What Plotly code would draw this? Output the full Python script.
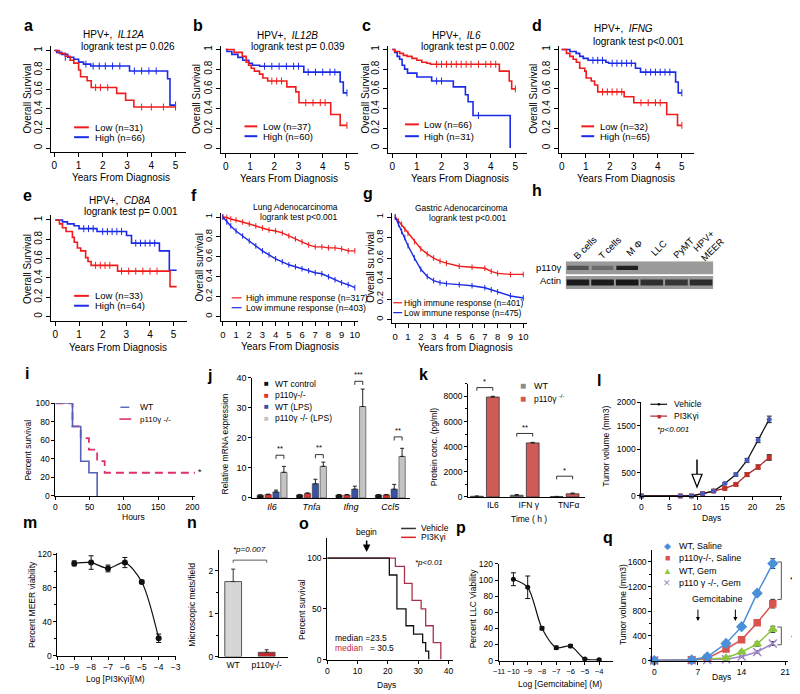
import plotly.graph_objects as go

W, H = 800, 694
FONT = "Liberation Sans, Arial, sans-serif"
R_RED, R_BLUE = "#f01c1c", "#1a2ae6"

# ---------------- data ----------------
# a  HPV+, IL12A
a_low_t = [0, 0.2, 0.45, 0.65, 0.8, 1.0, 1.08, 1.35, 1.52, 2.57, 2.94, 3.28, 5.0]
a_low_s = [1, 0.97, 0.94, 0.9, 0.87, 0.8, 0.73, 0.69, 0.62, 0.56, 0.49, 0.42, 0.42]
a_high_t = [0, 0.1, 0.3, 0.55, 0.8, 1.0, 1.2, 1.5, 3.1, 4.67, 4.77, 5.0]
a_high_s = [1, 0.98, 0.96, 0.93, 0.91, 0.88, 0.86, 0.84, 0.79, 0.71, 0.44, 0.44]
a_high_ct = [0.45, 1.3, 1.6, 1.85, 2.1, 2.4, 2.7, 3.3, 3.6, 3.9, 4.2, 5.0]
a_high_cs = [0.93, 0.86, 0.84, 0.84, 0.84, 0.84, 0.84, 0.79, 0.79, 0.79, 0.79, 0.44]
a_low_ct = [1.7, 1.9, 2.2, 3.6, 4.0, 4.5, 5.0]
a_low_cs = [0.62, 0.62, 0.62, 0.42, 0.42, 0.42, 0.42]
# b  HPV+, IL12B
b_low_t = [0, 0.34, 0.68, 0.84, 0.94, 1.05, 1.18, 1.39, 1.53, 1.73, 2.52, 2.89, 3.02, 4.33, 4.72, 5.0]
b_low_s = [1, 0.97, 0.93, 0.87, 0.84, 0.81, 0.78, 0.75, 0.71, 0.68, 0.62, 0.57, 0.46, 0.34, 0.23, 0.23]
b_high_t = [0, 0.05, 0.25, 0.5, 0.7, 0.95, 1.1, 1.4, 3.22, 4.72, 4.85, 5.0]
b_high_s = [1, 0.98, 0.95, 0.92, 0.89, 0.86, 0.84, 0.83, 0.77, 0.67, 0.56, 0.56]
b_high_ct = [1.6, 1.9, 2.2, 2.5, 2.8, 3.0, 3.4, 3.7, 4.0, 4.3, 4.5, 5.0]
b_high_cs = [0.83, 0.83, 0.83, 0.83, 0.83, 0.83, 0.77, 0.77, 0.77, 0.77, 0.77, 0.56]
b_low_ct = [1.9, 2.1, 2.3, 3.3, 3.6, 3.9, 4.1, 5.0]
b_low_cs = [0.68, 0.68, 0.68, 0.46, 0.46, 0.46, 0.46, 0.23]
# c  HPV+, IL6
c_low_t = [0, 0.1, 0.3, 0.45, 0.6, 0.8, 1.0, 1.2, 1.4, 1.55, 4.35, 4.75, 4.85, 5.0]
c_low_s = [1, 0.98, 0.96, 0.94, 0.93, 0.91, 0.89, 0.87, 0.86, 0.85, 0.78, 0.68, 0.6, 0.6]
c_high_t = [0, 0.1, 0.2, 0.3, 0.4, 0.5, 0.62, 1.0, 1.6, 2.48, 2.97, 3.08, 3.28, 4.79]
c_high_s = [1, 0.97, 0.93, 0.9, 0.84, 0.8, 0.76, 0.72, 0.68, 0.62, 0.54, 0.47, 0.33, 0.0]
c_low_ct = [1.8, 2.0, 2.2, 2.4, 2.6, 2.8, 3.0, 3.2, 3.5, 3.8, 4.0, 4.2, 5.0]
c_low_cs = [0.85, 0.85, 0.85, 0.85, 0.85, 0.85, 0.85, 0.85, 0.85, 0.85, 0.85, 0.85, 0.6]
c_high_ct = [1.8, 2.0, 3.5]
c_high_cs = [0.68, 0.68, 0.33]
# d  HPV+, IFNG
d_low_t = [0, 0.2, 0.34, 0.48, 0.61, 0.75, 0.96, 1.02, 1.23, 1.37, 1.5, 2.6, 3.0, 4.37, 4.82, 5.0]
d_low_s = [1, 0.96, 0.93, 0.9, 0.87, 0.81, 0.78, 0.71, 0.68, 0.64, 0.57, 0.52, 0.46, 0.34, 0.23, 0.23]
d_high_t = [0, 0.34, 0.6, 0.75, 0.9, 1.1, 1.84, 1.95, 3.07, 3.28, 4.74, 4.85, 5.0]
d_high_s = [1, 0.98, 0.96, 0.93, 0.91, 0.89, 0.87, 0.86, 0.81, 0.77, 0.67, 0.56, 0.56]
d_high_ct = [1.3, 1.5, 1.7, 2.1, 2.3, 2.5, 2.7, 2.9, 3.5, 3.7, 3.9, 4.1, 4.3, 4.5, 5.0]
d_high_cs = [0.89, 0.89, 0.89, 0.86, 0.86, 0.86, 0.86, 0.86, 0.77, 0.77, 0.77, 0.77, 0.77, 0.77, 0.56]
d_low_ct = [1.7, 1.9, 2.1, 2.3, 2.5, 3.3, 3.6, 3.9, 4.1, 5.0]
d_low_cs = [0.57, 0.57, 0.57, 0.57, 0.57, 0.46, 0.46, 0.46, 0.46, 0.23]
# e  HPV+, CD8A
e_low_t = [0, 0.17, 0.3, 0.45, 0.72, 0.8, 0.93, 1.07, 1.28, 1.38, 1.51, 2.63, 4.85, 5.13]
e_low_s = [1, 0.96, 0.92, 0.88, 0.82, 0.77, 0.71, 0.68, 0.61, 0.57, 0.53, 0.47, 0.31, 0.31]
e_high_t = [0, 0.3, 0.51, 0.79, 1.0, 1.76, 3.01, 3.22, 4.4, 4.82, 5.13]
e_high_s = [1, 0.98, 0.96, 0.94, 0.91, 0.88, 0.84, 0.76, 0.68, 0.48, 0.48]
e_high_ct = [1.2, 1.4, 1.6, 2.0, 2.2, 2.4, 2.6, 2.8, 3.4, 3.6, 3.8, 4.0, 4.2]
e_high_cs = [0.91, 0.91, 0.91, 0.88, 0.88, 0.88, 0.88, 0.88, 0.76, 0.76, 0.76, 0.76, 0.76]
e_low_ct = [1.7, 1.9, 2.1, 2.3, 2.8, 3.1, 3.4, 3.7, 4.0, 4.3]
e_low_cs = [0.53, 0.53, 0.53, 0.53, 0.47, 0.47, 0.47, 0.47, 0.47, 0.47]
# f  Lung adenocarcinoma
f_t = [0, 0.3, 0.6, 1.0, 1.5, 2.0, 2.5, 3.0, 3.5, 4.0, 4.5, 5.0, 5.5, 6.0, 6.5, 7.0, 7.5, 8.0, 8.5, 9.0, 9.5, 10.0]
f_high = [1, 0.995, 0.98, 0.97, 0.95, 0.93, 0.91, 0.89, 0.87, 0.86, 0.84, 0.81, 0.78, 0.75, 0.72, 0.7, 0.7, 0.69, 0.69, 0.68, 0.66, 0.66]
f_low = [1, 0.95, 0.91, 0.86, 0.81, 0.76, 0.71, 0.66, 0.62, 0.58, 0.55, 0.52, 0.5, 0.48, 0.46, 0.44, 0.43, 0.4, 0.37, 0.34, 0.32, 0.29]
# g  Gastric adenocarcinoma
g_t = [0, 0.25, 0.5, 0.75, 1.0, 1.5, 2.0, 2.5, 3.0, 3.5, 4.0, 5.0, 6.0, 7.0, 7.5, 8.0, 9.0, 10.0]
g_high = [1, 0.96, 0.93, 0.88, 0.84, 0.76, 0.69, 0.64, 0.6, 0.57, 0.55, 0.52, 0.51, 0.5, 0.47, 0.45, 0.44, 0.44]
g_low = [1, 0.93, 0.86, 0.8, 0.72, 0.6, 0.49, 0.42, 0.38, 0.36, 0.35, 0.34, 0.33, 0.31, 0.29, 0.27, 0.23, 0.21]
# h  western blot
blot_lanes = ["B cells", "T cells", "M Φ", "LLC", "PyMT", "HPV+<br>MEER"]
blot_p110 = [0.55, 0.35, 0.95, 0.0, 0.0, 0.0]
blot_actin = [0.95, 0.95, 0.98, 0.8, 0.75, 0.82]
# i  survival (hours)
i_wt_t = [0, 25, 37, 49, 61]
i_wt_s = [100, 75, 37.5, 25, 0]
i_ko_t = [0, 25, 37, 49, 61, 72, 204]
i_ko_s = [100, 75, 62.5, 50, 37.5, 25, 25]
# j  relative mRNA expression
j_genes = ["Il6", "Tnfa", "Ifng", "Ccl5"]
j_wt_ctrl = [0.9, 1.0, 1.0, 1.0]
j_ko_ctrl = [1.1, 1.5, 1.0, 1.0]
j_wt_lps = [2.0, 4.7, 2.9, 2.9]
j_wt_lps_err = [0.6, 1.5, 1.0, 1.6]
j_ko_lps = [8.5, 10.5, 30.4, 13.8]
j_ko_lps_err = [2.0, 1.4, 5.8, 2.7]
j_sig_y = [14.2, 14.4, 38.8, 20.3]
j_sig = ["**", "**", "***", "**"]
# k  protein concentration
k_groups = ["IL6", "IFN γ", "TNFα"]
k_wt = [50, 130, 30]
k_wt_err = [20, 60, 15]
k_ko = [7950, 4300, 250]
k_ko_err = [60, 40, 60]
k_sig_y = [8700, 5050, 1650]
k_sig = ["*", "**", "*"]
# l  tumor volume
l_days = [0, 7, 9, 11, 13, 15, 17, 19, 21, 23]
l_veh = [0, 0, 0, 49, 105, 267, 456, 758, 1193, 1635]
l_veh_err = [0, 0, 0, 10, 15, 20, 35, 45, 55, 70]
l_pi = [0, 0, 0, 49, 105, 161, 246, 456, 618, 821]
l_pi_err = [0, 0, 0, 10, 15, 15, 25, 35, 45, 60]
# m  MEER viability
m_logc = [-9, -8, -7, -6, -5, -4]
m_via = [109, 110, 103, 110, 87, 20.5]
m_err = [3, 8, 4, 6, 2, 5]
# n  mets
n_groups = ["WT", "p110γ-/-"]
n_vals = [1.75, 0.1]
n_err = [0.29, 0.06]
# o  survival (days)
o_veh_t = [0, 20.5, 23, 26, 28.5, 31.5, 32.5, 33.5]
o_veh_s = [100, 83.3, 50, 33.3, 25, 16.7, 8.3, 0]
o_pi_t = [0, 22.5, 25.5, 28, 31, 32.5, 35, 37.5]
o_pi_s = [100, 91.7, 75, 58.3, 50, 33.3, 16.7, 0]
o_ticks = [0, 10, 20, 30, 40]
# p  LLC viability
p_logc = [-10, -9, -8, -7, -6, -5, -4]
p_via = [101, 91, 40, 16, 18, 2, 1]
p_err = [8, 14, 2, 2, 2, 1, 1]
# q  tumor volume with gemcitabine
q_days = [0, 6, 8.5, 11.5, 14, 16.5, 19]
q_wt_sal = [0, 10, 60, 278, 550, 1094, 1574]
q_wt_sal_err = [0, 5, 10, 25, 30, 40, 80]
q_ko_sal = [0, 10, 40, 187, 336, 614, 923]
q_ko_sal_err = [0, 5, 10, 20, 25, 40, 70]
q_wt_gem = [0, 5, 24, 40, 139, 267, 507]
q_wt_gem_err = [0, 5, 5, 10, 20, 35, 50]
q_ko_gem = [0, 5, 10, 21, 64, 139, 277]
q_ko_gem_err = [0, 5, 5, 8, 10, 20, 30]

# ---------------- helpers ----------------
fig = go.Figure()
annots, shapes, lay = [], [], {}


def ref(n):
    return ("x", "y") if n == 1 else (f"x{n}", f"y{n}")


def rng(v0, p0, v1, p1, pa, pb):
    k = (v1 - v0) / (p1 - p0)
    return [v0 + (pa - p0) * k, v0 + (pb - p0) * k]


def axes(n, box, xcal, ycal, xkw=None, ykw=None, style="R", hidden=False):
    xl, xr, yt, yb = box
    tsize = 10 if style == "R" else 8.5
    base = dict(showline=True, linecolor="black", linewidth=1, ticks="outside",
                ticklen=4 if style == "R" else 3, tickwidth=1, tickcolor="black",
                showgrid=False, zeroline=False, fixedrange=True,
                tickfont=dict(family=FONT, size=tsize, color="black"))
    if hidden:
        base = dict(showline=False, showticklabels=False, ticks="", showgrid=False,
                    zeroline=False, fixedrange=True)
    xs, ys = ("xaxis", "yaxis") if n == 1 else (f"xaxis{n}", f"yaxis{n}")
    xa = dict(base)
    xa.update(domain=[xl / W, xr / W], range=rng(*xcal, xl, xr), anchor=ref(n)[1])
    if not hidden:
        xa["tickangle"] = 0
    xa.update(xkw or {})
    ya = dict(base)
    ya.update(domain=[1 - yb / H, 1 - yt / H], range=rng(*ycal, yb, yt), anchor=ref(n)[0])
    if style == "R" and not hidden:
        ya["tickangle"] = -90
    ya.update(ykw or {})
    lay[xs] = xa
    lay[ys] = ya


def T(x, y, text, size=10, anchor="center", angle=0, color="black"):
    annots.append(dict(x=x / W, y=1 - y / H, xref="paper", yref="paper", text=text,
                       showarrow=False, font=dict(family=FONT, size=size, color=color),
                       xanchor=anchor, yanchor="middle", textangle=angle))


def TD(n, x, y, text, size=8, yanchor="bottom"):
    annots.append(dict(x=x, y=y, xref=ref(n)[0], yref=ref(n)[1], text=text, showarrow=False,
                       font=dict(family=FONT, size=size, color="black"),
                       xanchor="center", yanchor=yanchor))


def L(x0, y0, x1, y1, color="black", width=1, dash=None):
    shapes.append(dict(type="line", xref="paper", yref="paper", x0=x0 / W, y0=1 - y0 / H,
                       x1=x1 / W, y1=1 - y1 / H, line=dict(color=color, width=width, dash=dash)))


def bracket(n, xa, xb, y, drop, color="black", width=0.8):
    shapes.append(dict(type="path", xref=ref(n)[0], yref=ref(n)[1],
                       path=f"M{xa},{y - drop} L{xa},{y} L{xb},{y} L{xb},{y - drop}",
                       line=dict(color=color, width=width)))


def km(n, t, s, color, ct=None, cs=None, shape="hv", width=1.6, marks=False):
    xr_, yr_ = ref(n)
    fig.add_trace(go.Scatter(x=t, y=s, mode="lines+markers" if marks else "lines",
                             line=dict(color=color, width=width, shape=shape),
                             marker=dict(symbol="line-ns", size=4, line=dict(width=1, color=color)),
                             xaxis=xr_, yaxis=yr_, hoverinfo="skip", cliponaxis=False))
    if ct:
        fig.add_trace(go.Scatter(x=ct, y=cs, mode="markers",
                                 marker=dict(symbol="line-ns", size=5, line=dict(width=1, color=color)),
                                 xaxis=xr_, yaxis=yr_, hoverinfo="skip", cliponaxis=False))


RY = dict(tickvals=[0, 0.2, 0.4, 0.6, 0.8, 1], ticktext=["0", "0.2", "0.4", "0.6", "0.8", "1"])
RX5 = dict(tickvals=[0, 1, 2, 3, 4, 5])
RX10 = dict(tickvals=list(range(11)), tickfont=dict(family=FONT, size=9.5, color="black"))
RYs = dict(RY, tickfont=dict(family=FONT, size=9.5, color="black"))

# ---------------- a-e: HPV+ KM curves ----------------
km_panels = [
    (1, (37, 174, 33, 141), (0, 40, 5, 163), (0, 137, 1, 38), a_low_t, a_low_s, a_high_t, a_high_s,
     a_low_ct, a_low_cs, a_high_ct, a_high_cs),
    (2, (209, 348, 33, 142), (0, 214, 5, 337), (0, 137, 1, 37), b_low_t, b_low_s, b_high_t, b_high_s,
     b_low_ct, b_low_cs, b_high_ct, b_high_cs),
    (3, (379, 520, 33, 142), (0, 383, 5, 508), (0, 137, 1, 37), c_low_t, c_low_s, c_high_t, c_high_s,
     c_low_ct, c_low_cs, c_high_ct, c_high_cs),
    (4, (552, 689, 33, 142), (0, 555, 5, 677), (0, 137, 1, 37), d_low_t, d_low_s, d_high_t, d_high_s,
     d_low_ct, d_low_cs, d_high_ct, d_high_cs),
    (5, (37, 175, 205, 313), (0, 41, 5, 161), (0, 308, 1, 210), e_low_t, e_low_s, e_high_t, e_high_s,
     e_low_ct, e_low_cs, e_high_ct, e_high_cs),
]
for n, box, xc, yc, lt, ls, ht, hs, lct, lcs, hct, hcs in km_panels:
    axes(n, box, xc, yc, RX5, RY)
    km(n, ht, hs, R_BLUE, hct, hcs)
    km(n, lt, ls, R_RED, lct, lcs)

# texts a
T(14, 13, "<b>a</b>", 16)
T(100, 22, "HPV+,  <i>IL12A</i>")
T(115, 34, "logrank test p= 0.026")
T(108, 167, "Years From Diagnosis")
T(13, 87, "Overall Survival", angle=-90)
L(60, 116, 75, 116, R_RED, 2); T(79, 116, "Low (n=31)", 9.5, anchor="left")
L(60, 126, 75, 126, R_BLUE, 2); T(79, 126, "High (n=66)", 9.5, anchor="left")
# b
T(186, 13, "<b>b</b>", 16)
T(277, 23, "HPV+,  <i>IL12B</i>")
T(287, 34, "logrank test p= 0.039")
T(278, 168, "Years From Diagnosis")
T(185, 87, "Overall Survival", angle=-90)
L(233, 115, 246, 115, R_RED, 2); T(250, 115, "Low (n=37)", 9.5, anchor="left")
L(233, 125, 246, 125, R_BLUE, 2); T(250, 125, "High (n=60)", 9.5, anchor="left")
# c
T(357, 13, "<b>c</b>", 16)
T(448, 23, "HPV+,  <i>IL6</i>")
T(460, 34, "logrank test p= 0.002")
T(452, 168, "Years From Diagnosis")
T(356, 87, "Overall Survival", angle=-90)
L(396, 113, 410, 113, R_RED, 2); T(413, 113, "Low (n=66)", 9.5, anchor="left")
L(396, 125, 410, 125, R_BLUE, 2); T(413, 125, "High (n=31)", 9.5, anchor="left")
# d
T(530, 13, "<b>d</b>", 16)
T(618, 16, "HPV+,  <i>IFNG</i>")
T(633, 29, "logrank test p<0.001")
T(620, 168, "Years From Diagnosis")
T(527, 87, "Overall Survival", angle=-90)
L(575, 115, 588, 115, R_RED, 2); T(592, 115, "Low (n=32)", 9.5, anchor="left")
L(575, 125, 588, 125, R_BLUE, 2); T(592, 125, "High (n=65)", 9.5, anchor="left")
# e
T(13, 185, "<b>e</b>", 16)
T(107, 190, "HPV+,  <i>CD8A</i>")
T(118, 201, "logrank test p= 0.001")
T(105, 339, "Years From Diagnosis")
T(12, 260, "Overall Survival", angle=-90)
L(60, 287, 75, 287, R_RED, 2); T(79, 287, "Low (n=33)", 9.5, anchor="left")
L(60, 297, 75, 297, R_BLUE, 2); T(79, 297, "High (n=64)", 9.5, anchor="left")

# ---------------- f ----------------
axes(6, (209, 348, 203, 313), (0, 211, 10, 345), (0, 308, 1, 207), RX10, RYs)
km(6, f_t, f_high, R_RED, shape="linear", width=1.4, marks=True)
km(6, f_t, f_low, R_BLUE, shape="linear", width=1.4, marks=True)
T(182, 185, "<b>f</b>", 16)
T(285, 197, "Lung Adenocarcinoma", 8.5)
T(288, 207, "logrank test p<0.001", 8.5)
T(279, 338, "Years From Diagnosis")
T(187, 258, "Overall survival", angle=-90)
L(220, 289, 230, 289, R_RED, 1.2); T(232, 289, "High immune response (n=317)", 8.7, anchor="left")
L(220, 299, 230, 299, R_BLUE, 1.2); T(232, 299, "Low immune response (n=403)", 8.7, anchor="left")

# ---------------- g ----------------
axes(7, (383, 520, 203, 315), (0, 386, 10, 516), (0, 311, 1, 207), RX10, RYs)
km(7, g_t, g_high, R_RED, shape="linear", width=1.4, marks=True)
km(7, g_t, g_low, R_BLUE, shape="linear", width=1.4, marks=True)
T(358, 183, "<b>g</b>", 16)
T(453, 198, "Gastric Adenocarcinoma", 8.5)
T(460, 208, "logrank test p<0.001", 8.5)
T(457, 339, "Years from Diagnosis")
T(361, 258, "Overall su rvival", angle=-90)
L(384, 294, 393, 294, R_RED, 1.2); T(393, 294, "High immune response (n=401)", 8.5, anchor="left")
L(384, 304, 393, 304, R_BLUE, 1.2); T(393, 304, "Low immune response (n=475)", 8.5, anchor="left")

# ---------------- h: blot ----------------
axes(8, (559, 709, 252, 280), (-0.5, 559, 5.5, 709), (0, 280, 2, 252), hidden=True)
shapes.append(dict(type="rect", xref="x8", yref="y8", x0=-0.5, x1=5.5, y0=1.06, y1=2.0,
                   fillcolor="#9a9a9a", line=dict(width=0), layer="below"))
shapes.append(dict(type="rect", xref="x8", yref="y8", x0=-0.5, x1=5.5, y0=0.0, y1=0.94,
                   fillcolor="#9a9a9a", line=dict(width=0), layer="below"))
fig.add_trace(go.Bar(x=list(range(6)), y=[0.3] * 6, base=[1.38] * 6, width=0.88,
                     marker=dict(color=[f"rgba(25,25,25,{v})" for v in blot_p110], line=dict(width=0)),
                     offsetgroup="blot", xaxis="x8", yaxis="y8", hoverinfo="skip"))
fig.add_trace(go.Bar(x=list(range(6)), y=[0.44] * 6, base=[0.25] * 6, width=0.92,
                     marker=dict(color=[f"rgba(20,20,20,{v})" for v in blot_actin], line=dict(width=0)),
                     offsetgroup="blot", xaxis="x8", yaxis="y8", hoverinfo="skip"))
T(530, 180, "<b>h</b>", 16)
for i, lab in enumerate(blot_lanes):
    T(559 + 25 * i + 20, 238 if i < 5 else 235, lab, 9.5, angle=-45)
T(556, 258, "p110γ", 9.5, anchor="right")
T(556, 271, "Actin", 9.5, anchor="right")

PT = lambda s=8.5: dict(family=FONT, size=s, color="black")

# ---------------- i ----------------
axes(9, (41, 183, 396, 490), (0, 41, 200, 180), (0, 490, 100, 396),
     dict(tickvals=[0, 50, 100, 150, 200]), dict(tickvals=[0, 20, 40, 60, 80, 100]), style="P")
fig.add_trace(go.Scatter(x=i_ko_t, y=i_ko_s, mode="lines", xaxis="x9", yaxis="y9", cliponaxis=False,
                         line=dict(color="#e0306a", width=1.8, dash="8px,5px", shape="hv"), hoverinfo="skip"))
fig.add_trace(go.Scatter(x=i_wt_t, y=i_wt_s, mode="lines", xaxis="x9", yaxis="y9", cliponaxis=False,
                         line=dict(color="#5560b8", width=1.6, shape="hv"), hoverinfo="skip"))
T(12, 366, "<b>i</b>", 16)
T(120, 511, "Hours", 8.5)
T(13, 443, "Percent survival", 8.5, angle=-90)
L(107, 400, 116, 400, "#5560b8", 1.4); T(125, 400, "WT", 8.5, anchor="left")
L(106, 412, 118, 412, "#e0306a", 1.6); T(125, 412, "p110γ -/-", 8, anchor="left")
T(188, 466, "*", 9)

# ---------------- j ----------------
axes(10, (241, 401, 370, 492), (0, 261, 3, 381), (0, 492, 40, 370),
     dict(tickvals=[0, 1, 2, 3], ticktext=[f"<i>{g}</i>" for g in j_genes], ticks="", tickfont=PT(9)),
     dict(tickvals=[0, 10, 20, 30, 40], tickfont=PT(9)), style="P")
j_series = [
    (j_wt_ctrl, None, "#111111"),
    (j_ko_ctrl, None, "#e8322b"),
    (j_wt_lps, j_wt_lps_err, "#3853a4"),
    (j_ko_lps, j_ko_lps_err, "#c4c4c4"),
]
for vals, err, col in j_series:
    ekw = dict(type="data", array=err if err else [0.15] * 4, arrayminus=[0] * 4, symmetric=False,
               thickness=1, width=2, color="#222")
    fig.add_trace(go.Bar(x=[0, 1, 2, 3], y=vals, marker=dict(color=col, line=dict(color="#333", width=0.6)),
                         error_y=ekw, xaxis="x10", yaxis="y10", hoverinfo="skip"))
for i in range(4):
    bracket(10, i + 0.1, i + 0.3, j_sig_y[i], 1.2)
    TD(10, i + 0.2, j_sig_y[i] + 0.1, j_sig[i], 7.5)
T(197, 368, "<b>j</b>", 16)
T(213, 437, "Relative mRNA expression", 8.5, angle=-90)
j_leg = ["WT control", "p110γ-/-", "WT (LPS)", "p110γ -/- (LPS)"]
for k_, (lab, (_, _, col)) in enumerate(zip(j_leg, j_series)):
    yy = [376, 388, 399.5, 411][k_]
    T(255, yy, "■", 8, color=col)
    T(262, yy, lab, 8.5, anchor="left")

# ---------------- k ----------------
axes(11, (460, 579, 376, 491), (0, 477, 2, 558), (0, 491, 8000, 389),
     dict(tickvals=[0.2, 1.1, 2.1], ticktext=k_groups, ticks="", tickfont=PT(8.5)),
     dict(tickvals=[0, 2000, 4000, 6000, 8000],
          minor=dict(tickvals=[1000, 3000, 5000, 7000, 9000], ticklen=2, ticks="outside", tickcolor="black")),
     style="P")
fig.add_trace(go.Bar(x=[0, 1, 2], y=k_wt, marker=dict(color="#8c8c8c", line=dict(color="#333", width=0.8)),
                     error_y=dict(type="data", array=k_wt_err, arrayminus=[0] * 3, symmetric=False,
                                  thickness=1, width=2, color="#222"), xaxis="x11", yaxis="y11", hoverinfo="skip"))
fig.add_trace(go.Bar(x=[0, 1, 2], y=k_ko, marker=dict(color="#cf5b57", line=dict(color="#333", width=0.8)),
                     error_y=dict(type="data", array=k_ko_err, arrayminus=[0] * 3, symmetric=False,
                                  thickness=1, width=2, color="#222"), xaxis="x11", yaxis="y11", hoverinfo="skip"))
for i in range(3):
    bracket(11, i - 0.2, i + 0.2, k_sig_y[i], 250)
    TD(11, i, k_sig_y[i] - 50, k_sig[i], 7.5)
T(415, 367, "<b>k</b>", 16)
T(425, 440, "Protein conc. (pg/ml)", 8.5, angle=-90)
T(522, 513, "Time ( h )", 8.5)
T(516, 378, "■", 10, color="#8c8c8c"); T(525, 378, "WT", 9, anchor="left")
T(516, 391, "■", 10, color="#cf5b57"); T(525, 391, "p110γ <sup>-/-</sup>", 8.5, anchor="left")

# ---------------- l ----------------
axes(12, (636, 779, 395, 490), (0, 636, 25, 777), (0, 490, 2000, 395),
     dict(tickvals=[0, 5, 10, 15, 20, 25]), dict(tickvals=[0, 500, 1000, 1500, 2000]), style="P")
fig.add_trace(go.Scatter(x=l_days, y=l_pi, mode="lines+markers", xaxis="x12", yaxis="y12", cliponaxis=False,
                         line=dict(color="#a52a2a", width=1.3), marker=dict(symbol="square", size=5, color="#c0302a"),
                         error_y=dict(type="data", array=l_pi_err, thickness=1, width=2.5, color="#222"),
                         hoverinfo="skip"))
fig.add_trace(go.Scatter(x=l_days, y=l_veh, mode="lines+markers", xaxis="x12", yaxis="y12", cliponaxis=False,
                         line=dict(color="#111111", width=1.3), marker=dict(symbol="circle", size=5, color="#4a5ab8"),
                         error_y=dict(type="data", array=l_veh_err, thickness=1, width=2.5, color="#222"),
                         hoverinfo="skip"))
shapes.append(dict(type="line", xref="x12", yref="y12", x0=10, x1=10, y0=779, y1=463,
                   line=dict(color="black", width=1.5)))
shapes.append(dict(type="path", xref="x12", yref="y12", path="M9.1,463 L10.9,463 L10,189 Z",
                   line=dict(color="black", width=1.2), fillcolor="white"))
T(593, 373, "<b>l</b>", 16)
T(707, 512, "Days", 8.5)
T(600, 440, "Tumor volume (mm3)", 8.5, angle=-90)
L(645, 397, 662, 397, "#111", 1.2); T(653.5, 397, "●", 6); T(667, 397, "Vehicle", 8.5, anchor="left")
L(645, 409, 662, 409, "#a52a2a", 1.2); T(653.5, 409, "■", 7, color="#c0302a"); T(667, 409, "PI3Kγi", 8.5, anchor="left")
T(668, 423, "<i>*p<0.001</i>", 8)

# ---------------- m ----------------
axes(13, (43, 163, 548, 652), (-10, 43, -3, 163), (0, 652, 120, 549),
     dict(tickvals=list(range(-10, -2))),
     dict(tickvals=[0, 40, 80, 120],
          minor=dict(tickvals=[20, 60, 100], ticklen=2, ticks="outside", tickcolor="black")), style="P")
fig.add_trace(go.Scatter(x=m_logc, y=m_via, mode="lines+markers", xaxis="x13", yaxis="y13", cliponaxis=False,
                         line=dict(color="#111", width=1.2, shape="spline", smoothing=0.8),
                         marker=dict(size=6, color="#111"),
                         error_y=dict(type="data", array=m_err, thickness=1, width=2.5, color="#111"),
                         hoverinfo="skip"))
T(15, 517, "<b>m</b>", 16)
T(102, 676, "Log [PI3Kγi](M)", 8.5)
T(18, 600, "Percent MEER viability", 8.5, angle=-90)

# ---------------- n ----------------
axes(14, (207, 277, 545, 653), (0, 221.5, 1, 255.5), (0, 653, 2, 566),
     dict(tickvals=[0, 1], ticktext=n_groups, ticks="", tickfont=PT(8.5)),
     dict(tickvals=[0, 1, 2], minor=dict(tickvals=[0.5, 1.5], ticklen=2, ticks="outside", tickcolor="black")),
     style="P")
fig.add_trace(go.Bar(x=[0, 1], y=n_vals, width=0.5,
                     marker=dict(color=["#d6d6d6", "#c1272d"], line=dict(color="#555", width=1)),
                     error_y=dict(type="data", array=n_err, arrayminus=[0, 0], symmetric=False,
                                  thickness=1, width=2, color="#333"),
                     xaxis="x14", yaxis="y14", hoverinfo="skip"))
bracket(14, 0, 1, 2.25, 0.06, color="#333")
T(180, 517, "<b>n</b>", 16)
T(238, 544, "<i>*p=0.007</i>", 8)
T(180, 600, "Microscopic mets/field", 8.5, angle=-90)

# ---------------- o ----------------
axes(15, (317, 445, 533, 656), (0, 317, 40, 440), (0, 656, 100, 553),
     dict(tickvals=o_ticks, tickfont=PT(8.5)), dict(tickvals=[0, 50, 100]), style="P")
fig.add_trace(go.Scatter(x=o_pi_t, y=o_pi_s, mode="lines", xaxis="x15", yaxis="y15", cliponaxis=False,
                         line=dict(color="#a8324a", width=1.3, shape="hv"), hoverinfo="skip"))
fig.add_trace(go.Scatter(x=o_veh_t, y=o_veh_s, mode="lines", xaxis="x15", yaxis="y15", cliponaxis=False,
                         line=dict(color="#111", width=1.3, shape="hv"), hoverinfo="skip"))
annots.append(dict(x=13, y=106, xref="x15", yref="y15", text="", showarrow=True, ax=0, ay=-13,
                   arrowhead=2, arrowsize=1, arrowwidth=1.5, arrowcolor="black"))
T(293, 518, "<b>o</b>", 16)
T(357, 527, "begin", 8.5)
L(392, 523, 407, 523, "#333", 1.5); T(410, 523, "Vehicle", 8.5, anchor="left")
L(392, 532, 407, 532, "#e02020", 1.5); T(410, 532, "PI3Kγi", 8.5, anchor="left")
T(323, 634, "median =23.5", 8.5, anchor="left")
T(323, 644, "<span style='color:#c8283c'>median</span>   = 30.5", 8.5, anchor="left")
T(420, 558, "<i>*p<0.01</i>", 8)
T(377, 682, "Days", 8.5)
T(292, 605, "Percent survival", 8.5, angle=-90)

# ---------------- p ----------------
axes(16, (491, 607, 559, 657), (-11, 491.5, -3, 607.5), (0, 657, 120, 559),
     dict(tickvals=list(range(-11, -2)), tickfont=PT(7.5)),
     dict(tickvals=[0, 20, 40, 60, 80, 100, 120]), style="P")
fig.add_trace(go.Scatter(x=p_logc, y=p_via, mode="lines+markers", xaxis="x16", yaxis="y16", cliponaxis=False,
                         line=dict(color="#111", width=1.2, shape="spline", smoothing=0.8),
                         marker=dict(size=5, color="#111"),
                         error_y=dict(type="data", array=p_err, thickness=1, width=2.5, color="#111"),
                         hoverinfo="skip"))
T(453, 522, "<b>p</b>", 16)
T(553, 681, "Log [Gemcitabine] (M)", 8.5)
T(465, 605, "Percent LLC Viability", 8.5, angle=-90)

# ---------------- q ----------------
axes(17, (647, 785, 545, 657), (0, 649, 21, 782), (0, 657, 1600, 557),
     dict(tickvals=[0, 7, 14, 21]),
     dict(tickvals=[0, 400, 800, 1200, 1600],
          minor=dict(tickvals=[200, 600, 1000, 1400], ticklen=2, ticks="outside", tickcolor="black")), style="P")
q_series = [
    (q_ko_gem, q_ko_gem_err, "#9e86c8", "x-thin-open", 8),
    (q_wt_gem, q_wt_gem_err, "#8cc63e", "triangle-up", 7),
    (q_ko_sal, q_ko_sal_err, "#d9534f", "square", 6),
    (q_wt_sal, q_wt_sal_err, "#4a90d9", "diamond", 7),
]
for vals, err, col, sym, sz in q_series:
    fig.add_trace(go.Scatter(x=q_days, y=vals, mode="lines+markers", xaxis="x17", yaxis="y17", cliponaxis=False,
                             line=dict(color=col, width=1.5),
                             marker=dict(symbol=sym, size=sz, color=col, line=dict(color=col, width=1.5)),
                             error_y=dict(type="data", array=err, thickness=1, width=2.5, color="#333"),
                             hoverinfo="skip"))
for d in (7, 13):
    annots.append(dict(x=d, y=640, xref="x17", yref="y17", text="", showarrow=True, ax=0, ay=-13,
                       arrowhead=2, arrowsize=0.8, arrowwidth=1, arrowcolor="black"))
T(602, 532, "<b>q</b>", 16)
q_leg = [("◆", "#4a90d9", "WT, Saline", 541), ("■", "#d9534f", "p110γ-/-, Saline", 553),
         ("▲", "#8cc63e", "WT, Gem", 566), ("✕", "#9e86c8", "p110 γ -/-, Gem", 578)]
for sym, col, lab, yy in q_leg:
    T(662, yy, sym, 9, color=col)
    T(672, yy, lab, 9, anchor="left")
T(713, 595, "Gemcitabine", 9)
shapes.append(dict(type="path", xref="paper", yref="paper",
                   path=f"M{774/W},{1-557/H} L{778/W},{1-557/H} L{778/W},{1-595/H} L{774/W},{1-595/H}",
                   line=dict(color="#555", width=1)))
shapes.append(dict(type="path", xref="paper", yref="paper",
                   path=f"M{774/W},{1-623/H} L{778/W},{1-623/H} L{778/W},{1-641/H} L{774/W},{1-641/H}",
                   line=dict(color="#555", width=1)))
T(798, 575, "***", 8, anchor="right")
T(796, 634, "**", 8, anchor="right")
T(717, 674, "Days", 8.5)
T(618, 600, "Tumor volume (mm3)", 8.5, angle=-90)

fig.update_layout(**lay, annotations=annots, shapes=shapes, width=W, height=H,
                  margin=dict(l=0, r=0, t=0, b=0), autosize=False,
                  barmode="group", bargap=0.2, bargroupgap=0.2, showlegend=False,
                  plot_bgcolor="white", paper_bgcolor="white",
                  font=dict(family=FONT, color="black"))
fig.write_html("out.html")
